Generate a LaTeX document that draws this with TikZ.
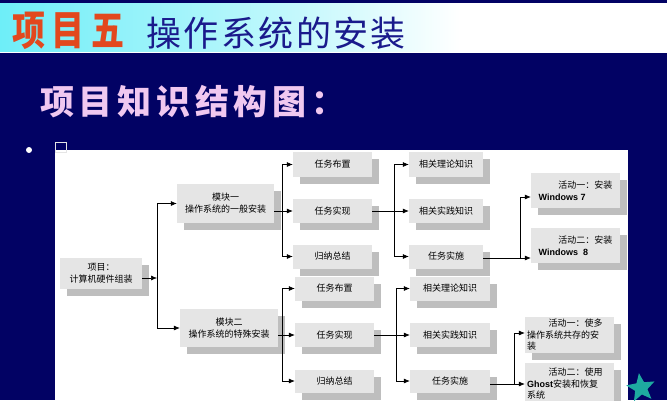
\documentclass[tikz,border=0pt]{standalone}
\usepackage{fontspec}
\newfontfamily\cjk{Noto Sans CJK SC}
\newfontfamily\cjkwide[LetterSpace=7]{Noto Sans CJK SC}
\newfontfamily\cjkwider[LetterSpace=14]{Noto Sans CJK SC}
\newfontfamily\cjkspread[LetterSpace=20]{Noto Sans CJK SC}
\newfontfamily\lsans{Liberation Sans}
\usetikzlibrary{shadows,shapes.geometric,arrows.meta}
\definecolor{navy}{RGB}{2,2,100}
\definecolor{boxfill}{RGB}{229,229,229}
\definecolor{shadowc}{RGB}{190,190,190}
\definecolor{ttlred}{RGB}{226,72,30}
\definecolor{ttlblue}{RGB}{26,26,140}
\definecolor{pinkt}{RGB}{240,200,240}
\definecolor{starc}{RGB}{30,170,160}
\definecolor{bancyan}{RGB}{110,238,248}
\begin{document}
\begin{tikzpicture}[x=1pt,y=-1pt,
  box/.style={rectangle, fill=boxfill, inner sep=1pt, align=center,
    font=\cjk\fontsize{9}{12}\selectfont,
    drop shadow={shadow xshift=7pt, shadow yshift=-7pt, fill=shadowc, opacity=1}},
  arr/.style={-{Latex[length=6pt,width=5pt]}, line width=0.6pt},
  ln/.style={line width=0.6pt}]
\useasboundingbox (0,0) rectangle (667,400);
% background
\fill[navy] (0,0) rectangle (667,400);
\fill[white] (460,3) rectangle (667,52);
\shade[left color=bancyan!40, right color=white] (300,3) rectangle (460,52);
\shade[left color=bancyan, right color=bancyan!40] (0,3) rectangle (300,52);
\draw[white, line width=0.8pt] (0,52.5) -- (667,52.5);
% titles
\node[anchor=west, inner sep=0, text=ttlred, font=\cjkspread\bfseries\fontsize{34}{40}\selectfont] (t1) at (12,31) {\scalebox{0.97}[1.2]{项目五}};
\node[anchor=west, inner sep=0, text=ttlblue, font=\cjkwide\fontsize{35}{40}\selectfont] (t2) at (146,33) {操作系统的安装};
\node[anchor=west, inner sep=0, text=pinkt, font=\cjkwider\bfseries\fontsize{34}{40}\selectfont] (s1) at (40,102) {项目知识结构图：};
% bullet and white panel
\fill[white] (29,150) circle (3);
\fill[white] (55,150) rectangle (628,400);
\draw[white!80!gray, line width=0.6pt] (55,142) rectangle (66,152);
% nodes
\node[box, minimum width=82, minimum height=31] (root) at (101,273.5) {项目：\\计算机硬件组装};
\node[box, minimum width=97, minimum height=39] (m1) at (225.5,203.5) {模块一\\操作系统的一般安装};
\node[box, minimum width=98, minimum height=38] (m2) at (229,328) {模块二\\操作系统的特殊安装};
\node[box, minimum width=79, minimum height=25] (t1a) at (332.5,164.5) {任务布置};
\node[box, minimum width=79, minimum height=24] (t1b) at (332.5,211) {任务实现};
\node[box, minimum width=79, minimum height=24] (t1c) at (332.5,256.5) {归纳总结};
\node[box, minimum width=79, minimum height=24] (t2a) at (334.5,288.5) {任务布置};
\node[box, minimum width=79, minimum height=24] (t2b) at (334.5,335) {任务实现};
\node[box, minimum width=79, minimum height=23] (t2c) at (334.5,381) {归纳总结};
\node[box, minimum width=74, minimum height=25] (k1a) at (446,164.5) {相关理论知识};
\node[box, minimum width=74, minimum height=24] (k1b) at (446,211) {相关实践知识};
\node[box, minimum width=74, minimum height=24] (k1c) at (446,256.5) {任务实施};
\node[box, minimum width=80, minimum height=24] (k2a) at (450,288.5) {相关理论知识};
\node[box, minimum width=80, minimum height=24] (k2b) at (450,335) {相关实践知识};
\node[box, minimum width=80, minimum height=23] (k2c) at (450,381) {任务实施};
\node[box, minimum width=89, minimum height=35, align=left] (a1a) at (575.5,190.5) {\hspace*{2.2em}活动一：安装\\{\lsans\bfseries Windows 7}};
\node[box, minimum width=89, minimum height=35, align=left] (a1b) at (575.5,245.5) {\hspace*{2.2em}活动二：安装\\{\lsans\bfseries Windows\ \ 8}};
\node[box, minimum width=89, minimum height=36, text width=85, align=left, font=\cjk\fontsize{9}{11.5}\selectfont] (a2a) at (569.5,335) {\hspace*{2.4em}活动一：使多\\操作系统共存的安\\装};
\node[box, minimum width=89, minimum height=42, text width=85, align=left, font=\cjk\fontsize{9}{11.5}\selectfont] (a2b) at (569.5,384) {\hspace*{2.4em}活动二：使用\\{\lsans\bfseries Ghost}安装和恢复\\系统};
% connectors: root to modules
\coordinate (j0) at (157,278);
\draw[arr] (root.east |- j0) -- (j0);
\draw[ln] (j0 |- m1.west) -- (j0 |- m2.west);
\draw[arr] (j0 |- m1.west) -- (m1.west);
\draw[arr] (j0 |- m2.west) -- (m2.west);
% module 1 to tasks
\coordinate (j1) at (282,211);
\draw[ln] (j1 |- t1a.west) -- (j1 |- t1c.west);
\draw[arr] (m1.east |- t1b.west) -- (t1b.west);
\draw[arr] (j1 |- t1a.west) -- (t1a.west);
\draw[arr] (j1 |- t1c.west) -- (t1c.west);
% module 2 to tasks
\coordinate (j2) at (282,335);
\draw[ln] (j2 |- t2a.west) -- (j2 |- t2c.west);
\draw[arr] (m2.east |- t2b.west) -- (t2b.west);
\draw[arr] (j2 |- t2a.west) -- (t2a.west);
\draw[arr] (j2 |- t2c.west) -- (t2c.west);
% task 1b to knowledge
\coordinate (j3) at (394,211);
\draw[ln] (j3 |- k1a.west) -- (j3 |- k1c.west);
\draw[arr] (t1b.east) -- (k1b.west);
\draw[arr] (j3 |- k1a.west) -- (k1a.west);
\draw[arr] (j3 |- k1c.west) -- (k1c.west);
% task 2b to knowledge
\coordinate (j4) at (396,335);
\draw[ln] (j4 |- k2a.west) -- (j4 |- k2c.west);
\draw[arr] (t2b.east) -- (k2b.west);
\draw[arr] (j4 |- k2a.west) -- (k2a.west);
\draw[arr] (j4 |- k2c.west) -- (k2c.west);
% implementation 1 to activities
\coordinate (j5) at (520,258);
\coordinate (e5) at (520,197);
\draw[ln] (e5) -- (j5);
\draw[arr] (k1c.east |- j5) -- (a1b.west |- j5);
\draw[arr] (e5) -- (a1a.west |- e5);
% implementation 2 to activities
\coordinate (j6) at (514,384);
\coordinate (e6) at (514,333);
\draw[ln] (e6) -- (j6);
\draw[arr] (k2c.east |- j6) -- (a2b.west |- j6);
\draw[arr] (e6) -- (a2a.west |- e6);
% star
\node[star, star points=5, star point ratio=2.3, fill=starc, minimum size=30, inner sep=0, rotate=8] (star) at (641,388) {};
\end{tikzpicture}
\end{document}
